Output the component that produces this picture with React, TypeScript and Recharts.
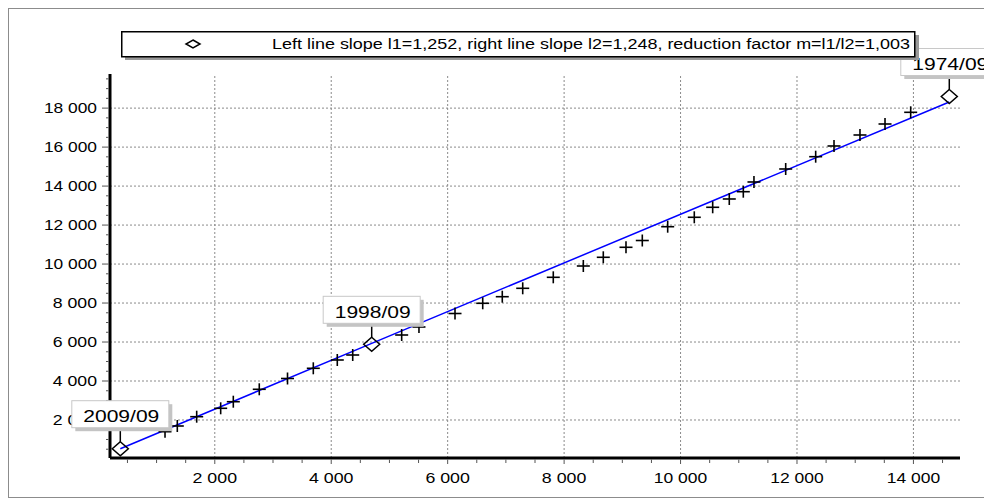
import React from 'react'
import { ScatterChart, Scatter, XAxis, YAxis, ReferenceLine } from 'recharts'

// observed points (the "+" marks)
const crossX = [1145, 1356, 1689, 2101, 2318, 2764, 3249, 3692, 4104, 4369, 5210, 5507, 6126, 6602, 6938, 7289, 7814, 8330, 8673, 9063, 9343, 9779, 10236, 10552, 10837, 11078, 11261, 11806, 12321, 12636, 13082, 13512, 13953]
const crossY = [1399, 1692, 2169, 2600, 2938, 3575, 4129, 4652, 5078, 5334, 6360, 6771, 7463, 7987, 8325, 8756, 9320, 9900, 10347, 10860, 11208, 11916, 12399, 12912, 13338, 13712, 14210, 14877, 15508, 16057, 16621, 17185, 17785]

// break points with their dates
const dates = ['2009/09', '1998/09', '1974/09']
const diamondX = [377, 4695, 14616]
const diamondY = [527, 5883, 18596]

// fitted lines (left and right part)
const fitX = [377, 4695, 14616]
const fitY = [527, 5933, 18314]

const xMajor = [2000, 4000, 6000, 8000, 10000, 12000, 14000]
const yMajor = [2000, 4000, 6000, 8000, 10000, 12000, 14000, 16000, 18000]
const xTicks = Array.from({ length: 29 }, (_, i) => (i + 1) * 500)
const yTicks = Array.from({ length: 39 }, (_, i) => (i + 1) * 500)

const legendText = 'Left line slope l1=1,252, right line slope l2=1,248, reduction factor m=l1/l2=1,003'

const crosses = crossX.map((x, i) => ({ x, y: crossY[i] }))
const diamonds = diamondX.map((x, i) => ({ x, y: diamondY[i], label: dates[i] }))
const fit = fitX.map((x, i) => ({ x, y: fitY[i] }))

const FONT = '"Liberation Sans", Arial, sans-serif'
const TICK_SIZE = 8
const TICK_MARGIN = 4
const X_DOMAIN = [200, 14800]
const Y_DOMAIN = [50, 19750]

const fmt = (v: number) => String(v).replace(/\B(?=(\d{3})+(?!\d))/g, ' ')

function XTick(props: any) {
  const { x, y, payload } = props
  const v = payload.value
  const major = v % 2000 === 0
  const axisY = y - TICK_SIZE - TICK_MARGIN
  const label = fmt(v)
  return (
    <g>
      <line x1={x} x2={x} y1={axisY + 1.5} y2={axisY + (major ? 6 : 5)} stroke="#555" />
      {major && (
        <text x={x} y={axisY + 25.3} textAnchor="middle" fontSize={15} fill="#000"
          textLength={label.length * 8.9} lengthAdjust="spacingAndGlyphs">{label}</text>
      )}
    </g>
  )
}

function YTick(props: any) {
  const { x, y, payload } = props
  const v = payload.value
  const major = v % 2000 === 0
  const axisX = x + TICK_SIZE + TICK_MARGIN
  const label = fmt(v)
  return (
    <g>
      <line x1={axisX - (major ? 8 : 4)} x2={axisX - 1.5} y1={y} y2={y} stroke="#555" />
      {major && (
        <text x={axisX - 13} y={y + 5.3} textAnchor="end" fontSize={15} fill="#000"
          textLength={label.length * 8.85} lengthAdjust="spacingAndGlyphs">{label}</text>
      )}
    </g>
  )
}

const Cross = (props: any) => {
  const { cx, cy } = props
  return (
    <g stroke="#000" strokeWidth={1.6}>
      <line x1={cx - 6.5} x2={cx + 6.5} y1={cy} y2={cy} />
      <line x1={cx} x2={cx} y1={cy - 6} y2={cy + 6} />
    </g>
  )
}

const Diamond = (props: any) => {
  const { cx, cy, payload } = props
  return (
    <g>
      <path d={`M${cx},${cy - 7} L${cx + 8},${cy} L${cx},${cy + 7} L${cx - 8},${cy} Z`} fill="none" stroke="#000" strokeWidth={1.5} />
      <line x1={cx} x2={cx} y1={cy - 21} y2={cy - 7} stroke="#000" strokeWidth={1.5} />
      <rect x={cx - 48.5 + 3.5} y={cy - 48 + 3.5} width={97} height={27} fill="#c4c4c4" />
      <rect x={cx - 48.5} y={cy - 48} width={97} height={27} fill="#fff" stroke="#c8c8c8" />
      <text x={cx + 1} y={cy - 26.6} textAnchor="middle" fontSize={17} fill="#000"
        textLength={76} lengthAdjust="spacingAndGlyphs">{payload.label}</text>
    </g>
  )
}

const NoDot = () => <g />

function LegendBox() {
  return (
    <svg width={800} height={32} style={{ position: 'absolute', left: 112, top: 22, fontFamily: FONT }}>
      <rect x={4} y={4} width={794} height={25} fill="#999" />
      <rect x={0.75} y={0.75} width={793} height={25} fill="#fff" stroke="#000" strokeWidth={1.5} />
      <path d="M72,9 L79,13 L72,17 L65,13 Z" fill="none" stroke="#000" strokeWidth={1.5} />
      <text x={151} y={18.3} fontSize={14} fill="#000" textLength={638} lengthAdjust="spacingAndGlyphs">{legendText}</text>
    </svg>
  )
}

export default function App() {
  return (
    <div style={{ position: 'relative', width: 983, height: 490, boxSizing: 'border-box', border: '1px solid #8c8c8c', background: '#fff', fontFamily: FONT }}>
      <ScatterChart width={978} height={487} margin={{ top: 65, right: 27, left: 41, bottom: 8 }}>
        {xMajor.map((v) => (
          <ReferenceLine key={'gx' + v} x={v} stroke="#8a8a8a" strokeDasharray="2 2" />
        ))}
        {yMajor.map((v) => (
          <ReferenceLine key={'gy' + v} y={v} stroke="#8a8a8a" strokeDasharray="2 2" />
        ))}
        <XAxis type="number" dataKey="x" domain={X_DOMAIN} ticks={xTicks} interval={0}
          height={30} tickSize={TICK_SIZE} tickMargin={TICK_MARGIN} tickLine={false}
          axisLine={{ stroke: '#000', strokeWidth: 3 }} tick={<XTick />} />
        <YAxis type="number" dataKey="y" domain={Y_DOMAIN} ticks={yTicks} interval={0}
          width={60} tickSize={TICK_SIZE} tickMargin={TICK_MARGIN} tickLine={false}
          axisLine={{ stroke: '#000', strokeWidth: 3 }} tick={<YTick />} />
        <Scatter name="fit" data={fit} line={{ stroke: '#0000ff', strokeWidth: 1.5 }} shape={<NoDot />} isAnimationActive={false} />
        <Scatter name="points" data={crosses} shape={<Cross />} isAnimationActive={false} />
      </ScatterChart>
      {/* break points and their date labels sit above the axes, as in the original */}
      <div style={{ position: 'absolute', left: 0, top: 0, pointerEvents: 'none' }}>
        <ScatterChart width={978} height={487} margin={{ top: 65, right: 27, left: 101, bottom: 38 }}>
          <XAxis type="number" dataKey="x" domain={X_DOMAIN} hide />
          <YAxis type="number" dataKey="y" domain={Y_DOMAIN} hide />
          <Scatter name="breaks" data={diamonds} shape={<Diamond />} isAnimationActive={false} />
        </ScatterChart>
      </div>
      <LegendBox />
    </div>
  )
}
